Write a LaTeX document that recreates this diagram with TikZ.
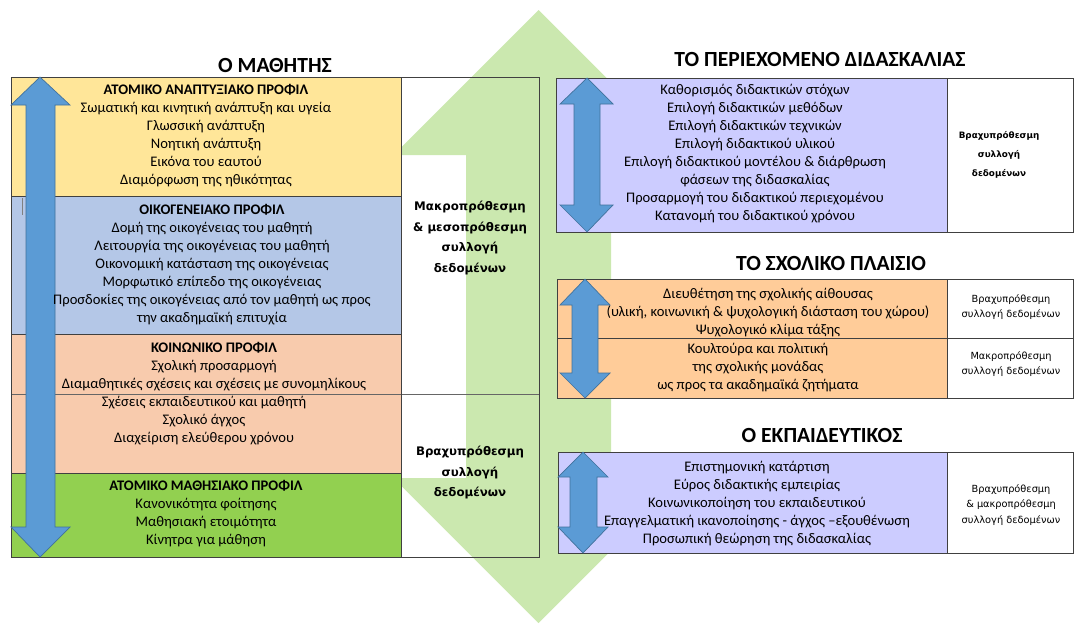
\documentclass[tikz,border=0pt]{standalone}
\usepackage{fontspec}
\setmainfont{Carlito}
\newfontfamily\vfont{DejaVu Sans}
\definecolor{yellowc}{HTML}{FFE699}
\definecolor{bluec}{HTML}{B4C7E7}
\definecolor{orangec}{HTML}{F8CBAD}
\definecolor{greenc}{HTML}{92D050}
\definecolor{purplec}{HTML}{CCCCFF}
\definecolor{peachc}{HTML}{FFCC99}
\definecolor{arrowblue}{HTML}{5B9BD5}
\definecolor{arrowedge}{HTML}{41719C}
\definecolor{biggreen}{HTML}{CBE8AF}
\definecolor{gridc}{HTML}{404040}
\begin{document}
\begin{tikzpicture}[x=1pt,y=-1pt,
  bigarrow/.style={fill=biggreen},
  barrow/.style={fill=arrowblue,draw=arrowedge,line width=0.7pt,line join=miter},
  gridline/.style={draw=gridc,line width=0.8pt},
  thinline/.style={draw=gridc!80,line width=0.6pt},
  body/.style={align=center,inner sep=0pt,font=\fontsize{14.6}{18}\selectfont},
  rbold/.style={align=center,inner sep=0pt,font=\vfont\fontsize{11.8}{20.5}\selectfont\bfseries},
  rboldsm/.style={align=center,inner sep=0pt,font=\vfont\fontsize{8.8}{19.3}\selectfont\bfseries},
  rsmall/.style={align=center,inner sep=0pt,font=\vfont\fontsize{9.8}{15.8}\selectfont},
  title/.style={inner sep=0pt,font=\fontsize{21.6}{24}\selectfont\bfseries}]
\useasboundingbox (0,0) rectangle (1075,624);
% big green double arrow
\fill[bigarrow] (538.5,10) -- (683.5,155) -- (611,155) -- (611,478) -- (683.5,478)
  -- (538.5,623) -- (393.5,478) -- (466,478) -- (466,155) -- (393.5,155) -- cycle;
% ---------- left table: O MATHITIS ----------
\fill[yellowc] (11,77) rectangle (401,196);
\fill[bluec] (11,196) rectangle (401,334);
\fill[orangec] (11,334) rectangle (401,473);
\fill[greenc] (11,473) rectangle (401,557);
\draw[gridline] (11,196) -- (401,196);
\draw[gridline] (11,334) -- (401,334);
\draw[thinline] (11,394) -- (539,394);
\draw[gridline] (11,473) -- (401,473);
\draw[gridline] (401,77) -- (401,557);
\draw[gridline] (11,77) rectangle (539,557);
\draw[draw=gray,line width=0.8pt] (22,198) -- (22,215);
\draw[barrow] (40,77) -- (70,105) -- (55,105) -- (55,527) -- (70,527) -- (40,557)
  -- (11,527) -- (26,527) -- (26,105) -- (11,105) -- cycle;
\node[title] (t1) at (275,65) {Ο ΜΑΘΗΤΗΣ};
\node[body] (ya) at (206,136) {\textbf{ΑΤΟΜΙΚΟ ΑΝΑΠΤΥΞΙΑΚΟ ΠΡΟΦΙΛ}\\Σωματική και κινητική ανάπτυξη και υγεία\\Γλωσσική ανάπτυξη\\Νοητική ανάπτυξη\\Εικόνα του εαυτού\\Διαμόρφωση της ηθικότητας};
\node[body] (bl) at (212,265) {\textbf{ΟΙΚΟΓΕΝΕΙΑΚΟ ΠΡΟΦΙΛ}\\Δομή της οικογένειας του μαθητή\\Λειτουργία της οικογένειας του μαθητή\\Οικονομική κατάσταση της οικογένειας\\Μορφωτικό επίπεδο της οικογένειας\\Προσδοκίες της οικογένειας από τον μαθητή ως προς\\την ακαδημαϊκή επιτυχία};
\node[body] (or1) at (214,366.5) {\textbf{ΚΟΙΝΩΝΙΚΟ ΠΡΟΦΙΛ}\\Σχολική προσαρμογή\\Διαμαθητικές σχέσεις και σχέσεις με συνομηλίκους};
\node[body] (or2) at (204,420.5) {Σχέσεις εκπαιδευτικού και μαθητή\\Σχολικό άγχος\\Διαχείριση ελεύθερου χρόνου};
\node[body] (gr) at (206,513.5) {\textbf{ΑΤΟΜΙΚΟ ΜΑΘΗΣΙΑΚΟ ΠΡΟΦΙΛ}\\Κανονικότητα φοίτησης\\Μαθησιακή ετοιμότητα\\Κίνητρα για μάθηση};
\node[rbold] (lr1) at (470,238) {Μακροπρόθεσμη\\\& μεσοπρόθεσμη\\συλλογή\\δεδομένων};
\node[rbold] (lr2) at (470,473) {Βραχυπρόθεσμη\\συλλογή\\δεδομένων};
% ---------- panel 1 ----------
\node[title] (t2) at (820,59) {ΤΟ ΠΕΡΙΕΧΟΜΕΝΟ ΔΙΔΑΣΚΑΛΙΑΣ};
\fill[purplec] (556,78) rectangle (947,232);
\fill[white] (947,78) rectangle (1073,232);
\draw[gridline] (556,78) rectangle (1073,232);
\draw[gridline] (947,78) -- (947,232);
\draw[barrow] (587,78) -- (613,104) -- (600,104) -- (600,205) -- (613,205) -- (587,232)
  -- (560,205) -- (574,205) -- (574,104) -- (560,104) -- cycle;
\node[body] (p1) at (755,154) {Καθορισμός διδακτικών στόχων\\Επιλογή διδακτικών μεθόδων\\Επιλογή διδακτικών τεχνικών\\Επιλογή διδακτικού υλικού\\Επιλογή διδακτικού μοντέλου \& διάρθρωση\\φάσεων της διδασκαλίας\\Προσαρμογή του διδακτικού περιεχομένου\\Κατανομή του διδακτικού χρόνου};
\node[rboldsm] (p1r) at (999,155) {Βραχυπρόθεσμη\\συλλογή\\δεδομένων};
% ---------- panel 2 ----------
\node[title] (t3) at (831,263) {ΤΟ ΣΧΟΛΙΚΟ ΠΛΑΙΣΙΟ};
\fill[peachc] (557,279) rectangle (947,398);
\fill[white] (947,279) rectangle (1073,398);
\draw[gridline] (557,279) rectangle (1073,398);
\draw[gridline] (947,279) -- (947,398);
\draw[gridline] (557,338) -- (1073,338);
\draw[barrow] (585,279) -- (610,305) -- (598,305) -- (598,373) -- (610,373) -- (585,398)
  -- (560,373) -- (572,373) -- (572,305) -- (560,305) -- cycle;
\node[body] (p2a) at (768,313) {Διευθέτηση της σχολικής αίθουσας\\(υλική, κοινωνική \& ψυχολογική διάσταση του χώρου)\\Ψυχολογικό κλίμα τάξης};
\node[body] (p2b) at (758,367.5) {Κουλτούρα και πολιτική\\της σχολικής μονάδας\\ως προς τα ακαδημαϊκά ζητήματα};
\node[rsmall] (p2r1) at (1011,307) {Βραχυπρόθεσμη\\συλλογή δεδομένων};
\node[rsmall] (p2r2) at (1011,364) {Μακροπρόθεσμη\\συλλογή δεδομένων};
% ---------- panel 3 ----------
\node[title] (t4) at (822,435) {Ο ΕΚΠΑΙΔΕΥΤΙΚΟΣ};
\fill[purplec] (558,452) rectangle (947,553);
\fill[white] (947,452) rectangle (1073,553);
\draw[gridline] (558,452) rectangle (1073,553);
\draw[gridline] (947,452) -- (947,553);
\draw[barrow] (583,452) -- (608,477) -- (597,477) -- (597,527) -- (608,527) -- (583,553)
  -- (558,527) -- (570,527) -- (570,477) -- (558,477) -- cycle;
\node[body] (p3) at (757,503.5) {Επιστημονική κατάρτιση\\Εύρος διδακτικής εμπειρίας\\Κοινωνικοποίηση του εκπαιδευτικού\\Επαγγελματική ικανοποίησης - άγχος –εξουθένωση\\Προσωπική θεώρηση της διδασκαλίας};
\node[rsmall] (p3r) at (1011,505) {Βραχυπρόθεσμη\\\& μακροπρόθεσμη\\συλλογή δεδομένων};
\end{tikzpicture}
\end{document}
